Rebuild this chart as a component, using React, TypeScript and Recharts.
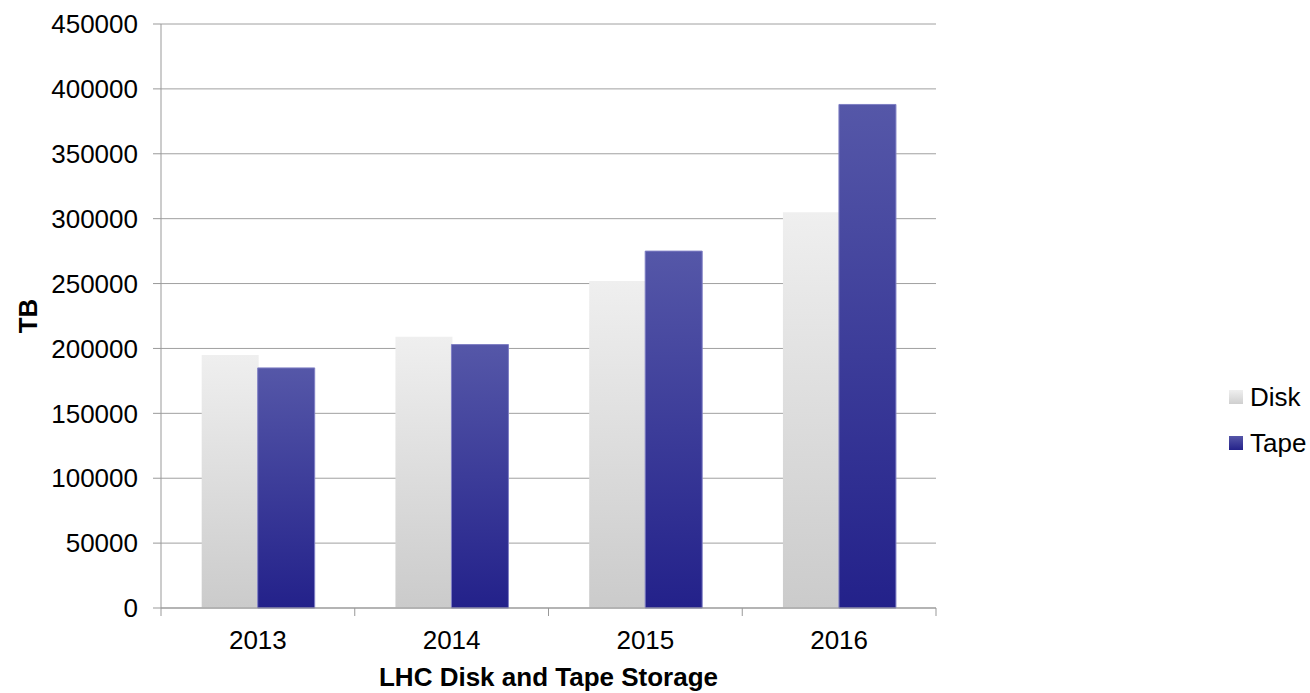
import { Bar, BarChart, CartesianGrid, Legend, XAxis, YAxis } from "recharts";

const years = ["2013", "2014", "2015", "2016"];
const disk = [195000, 209000, 252000, 305000];
const tape = [185000, 203000, 275000, 388000];
const yTicks = [0, 50000, 100000, 150000, 200000, 250000, 300000, 350000, 400000, 450000];

const data = years.map((year, i) => ({ year, Disk: disk[i], Tape: tape[i] }));

const W = 1310;
const H = 693;
const margin = { top: 24, right: 374, bottom: 0, left: 0 };
const yAxisWidth = 161;
const xAxisHeight = 85;
const bandHalf = (W - margin.left - margin.right - yAxisWidth) / years.length / 2;
const font = "'Liberation Sans', Arial, sans-serif";

function YearTick(props: any) {
  const { x, y, payload } = props;
  return (
    <g>
      <line x1={x - bandHalf} y1={y - 8} x2={x - bandHalf} y2={y} stroke="#999" />
      {payload.index === years.length - 1 && (
        <line x1={x + bandHalf} y1={y - 8} x2={x + bandHalf} y2={y} stroke="#999" />
      )}
      <text x={x} y={y + 33} textAnchor="middle" fontSize={26} fill="#000" fontFamily={font}>
        {payload.value}
      </text>
    </g>
  );
}

function SideLegend() {
  const items = [
    { name: "Disk", bg: "linear-gradient(#efefef, #cfcfcf)" },
    { name: "Tape", bg: "linear-gradient(#5556a8, #24228a)" },
  ];
  return (
    <div style={{ fontFamily: font, fontSize: 26, color: "#000" }}>
      {items.map((it) => (
        <div key={it.name} style={{ display: "flex", alignItems: "center", height: 46 }}>
          <span style={{ width: 14, height: 14, background: it.bg, marginRight: 7, display: "inline-block" }} />
          {it.name}
        </div>
      ))}
    </div>
  );
}

export default function App() {
  return (
    <div style={{ position: "absolute", left: 0, top: 0, width: W, height: H, background: "#fff" }}>
      <BarChart width={W} height={H} data={data} margin={margin} barCategoryGap="21%" barGap={-1}>
        <defs>
          <linearGradient id="diskGrad" x1="0" y1="0" x2="0" y2="1">
            <stop offset="0%" stopColor="#efefef" />
            <stop offset="100%" stopColor="#cbcbcb" />
          </linearGradient>
          <linearGradient id="tapeGrad" x1="0" y1="0" x2="0" y2="1">
            <stop offset="0%" stopColor="#5557a8" />
            <stop offset="100%" stopColor="#23218a" />
          </linearGradient>
        </defs>
        <CartesianGrid vertical={false} stroke="#a0a0a0" />
        <XAxis
          dataKey="year"
          height={xAxisHeight}
          stroke="#999"
          tickLine={false}
          tick={<YearTick />}
          interval={0}
          label={{
            value: "LHC Disk and Tape Storage",
            position: "insideBottom",
            offset: 7,
            style: { fontFamily: font, fontSize: 26, fontWeight: "bold", fill: "#000" },
          }}
        />
        <YAxis
          width={yAxisWidth}
          domain={[0, 450000]}
          ticks={yTicks}
          interval={0}
          stroke="#999"
          tickSize={8}
          tickMargin={15}
          tick={{ fontFamily: font, fontSize: 26, fill: "#000" }}
          label={{
            value: "TB",
            angle: -90,
            position: "insideLeft",
            offset: 28,
            style: { textAnchor: "middle", fontFamily: font, fontSize: 26, fontWeight: "bold", fill: "#000" },
          }}
        />
        <Legend
          layout="horizontal"
          align="center"
          verticalAlign="middle"
          content={<SideLegend />}
          wrapperStyle={{ position: "absolute", left: 1229, top: 374, width: 81 }}
        />
        <Bar dataKey="Disk" fill="url(#diskGrad)" isAnimationActive={false} />
        <Bar dataKey="Tape" fill="url(#tapeGrad)" stroke="#7f7fc4" strokeWidth={1} isAnimationActive={false} />
      </BarChart>
    </div>
  );
}
